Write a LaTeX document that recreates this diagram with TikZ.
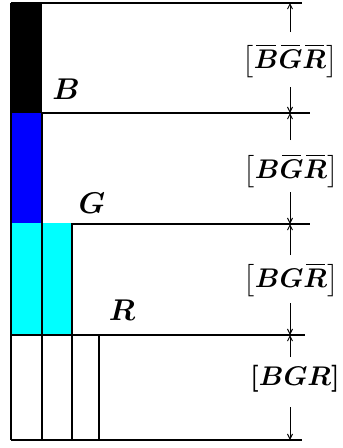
\documentclass[tikz,border=0pt]{standalone}
\usetikzlibrary{arrows.meta}
\definecolor{bblue}{RGB}{0,0,255}
\definecolor{bcyan}{RGB}{0,255,255}
\tikzset{
  edge/.style={draw=black, line width=1.2pt},
  dimarrow/.style={line width=1pt, -{Straight Barb[length=5pt,width=5pt]}},
  lbl/.style={inner sep=0pt, scale=3, font=\boldmath},
  brk/.style={inner sep=0pt, scale=2.7, font=\boldmath}
}
\newcommand{\ovl}[1]{\mkern1.5mu\overline{\mkern-1.5mu#1\mkern-1.5mu}\mkern1.5mu}
\begin{document}
\begin{tikzpicture}[x=1pt,y=-1pt]
\useasboundingbox (0,0) rectangle (343,448);
% fills
\fill[black] (11,3) rectangle (42,113);
\fill[bblue] (11,113) rectangle (42,223);
\fill[bcyan] (11,223) rectangle (72,335);
% verticals
\draw[edge] (11,3) -- (11,440);
\draw[edge] (42,113) -- (42,440);
\draw[edge] (72,223) -- (72,440);
\draw[edge] (99,335) -- (99,440);
% horizontals
\draw[edge] (11,3) -- (302,3);
\draw[edge] (42,113) -- (310,113);
\draw[edge] (72,224) -- (310,224);
\draw[edge] (11,335) -- (305,335);
\draw[edge] (11,440) -- (302,440);
% labels
\node[lbl] (lB) at (66,89) {$B$};
\node[lbl] (lG) at (92,203) {$G$};
\node[lbl] (lR) at (122,310) {$R$};
% bracket labels
\node[brk] (k1) at (290,61) {$\left[\ovl{B}\ovl{G}\ovl{R}\right]$};
\node[brk] (k2) at (291,171) {$\left[B\ovl{G}\ovl{R}\right]$};
\node[brk] (k3) at (291,280) {$\left[BG\ovl{R}\right]$};
\node[brk] (k4) at (295,379) {$\left[BGR\right]$};
% dimension arrows
\coordinate (t0) at (290,3);
\coordinate (t1) at (290,113);
\coordinate (t2) at (290,224);
\coordinate (t3) at (290,335);
\coordinate (t4) at (290,440);
\draw[dimarrow] (290,32) -- (t0);
\draw[dimarrow] (290,87) -- (t1);
\draw[dimarrow] (290,140) -- (t1);
\draw[dimarrow] (290,192) -- (t2);
\draw[dimarrow] (290,255) -- (t2);
\draw[dimarrow] (290,303) -- (t3);
\draw[dimarrow] (290,357) -- (t3);
\draw[dimarrow] (290,407) -- (t4);
\end{tikzpicture}
\end{document}
